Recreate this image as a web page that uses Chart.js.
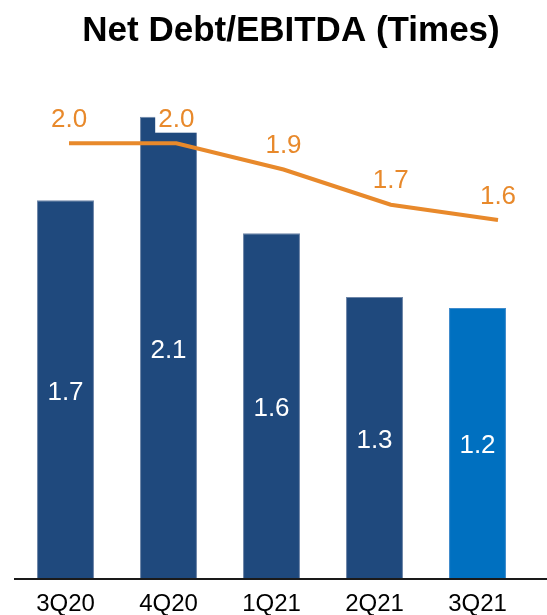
<!DOCTYPE html>
<html><head><meta charset="utf-8">
<script src="https://cdn.jsdelivr.net/npm/chart.js@4/dist/chart.umd.min.js"></script>
<style>html,body{margin:0;padding:0;background:#fff;}#wrap{width:547px;height:615px;position:relative}canvas{display:block}</style>
</head><body><div id="wrap"><canvas id="c" width="547" height="615"></canvas></div>
<script>
const categories = ['3Q20', '4Q20', '1Q21', '2Q21', '3Q21'];
const barValues = [1.72, 2.10, 1.57, 1.28, 1.23];
const lineValues = [1.98, 1.98, 1.86, 1.70, 1.63];
const chartTitle = 'Net Debt/EBITDA (Times)';

const FONT = '"Liberation Sans", Arial, sans-serif';
const NAVY = '#1F497D';
const BLUE = '#0070C0';
const ORANGE = '#E8892B';

const titlePlugin = {
  id: 'titleText',
  afterDraw(chart) {
    const ctx = chart.ctx;
    ctx.save();
    ctx.font = 'bold 35px ' + FONT;
    ctx.fillStyle = '#000';
    ctx.textAlign = 'center';
    ctx.textBaseline = 'alphabetic';
    ctx.fillText(chartTitle, 291, 41);
    ctx.restore();
  }
};

const axisLinePlugin = {
  id: 'axisLine',
  afterDatasetsDraw(chart) {
    const ctx = chart.ctx, a = chart.chartArea;
    ctx.save();
    ctx.strokeStyle = '#1a1a1a';
    ctx.lineWidth = 2;
    ctx.beginPath();
    ctx.moveTo(a.left, a.bottom + 1);
    ctx.lineTo(chart.width, a.bottom + 1);
    ctx.stroke();
    ctx.restore();
  }
};

const labelPlugin = {
  id: 'valueLabels',
  afterDatasetsDraw(chart) {
    const ctx = chart.ctx;
    ctx.save();
    ctx.font = '26px ' + FONT;
    ctx.textAlign = 'center';
    ctx.textBaseline = 'alphabetic';
    const barMeta = chart.getDatasetMeta(1);
    barMeta.data.forEach((el, i) => {
      const mid = (el.y + el.base) / 2;
      ctx.fillStyle = '#fff';
      ctx.fillText(barValues[i].toFixed(1), el.x, mid + 10.5);
    });
    const lineMeta = chart.getDatasetMeta(0);
    lineMeta.data.forEach((el, i) => {
      const txt = lineValues[i].toFixed(1);
      const by = el.y - 16.5;
      const w = ctx.measureText(txt).width;
      ctx.fillStyle = '#fff';
      ctx.fillRect(el.x - w / 2 - 3, by - 28, w + 6, 34);
      ctx.fillStyle = ORANGE;
      ctx.fillText(txt, el.x, by);
    });
    ctx.restore();
  }
};

new Chart(document.getElementById('c'), {
  type: 'bar',
  data: {
    labels: categories,
    datasets: [
      {
        type: 'line',
        data: lineValues.map((v, i) => ({ x: i, y: v })),
        xAxisID: 'xl',
        borderColor: ORANGE,
        borderWidth: 4,
        pointRadius: 0,
        tension: 0,
        fill: false,
        order: 0
      },
      {
        type: 'bar',
        data: barValues,
        xAxisID: 'x',
        grouped: false,
        backgroundColor: categories.map((c, i) => i === categories.length - 1 ? BLUE : NAVY),
        borderColor: categories.map((c, i) => i === categories.length - 1 ? '#3f8bcc' : '#6e86a8'),
        borderWidth: 1,
        barPercentage: 0.553,
        categoryPercentage: 1,
        order: 1
      }
    ]
  },
  options: {
    responsive: false,
    animation: false,
    devicePixelRatio: 1,
    layout: { padding: { left: 14, right: 18, top: 29, bottom: -15 } },
    plugins: { legend: { display: false }, tooltip: { enabled: false }, title: { display: false } },
    scales: {
      x: {
        type: 'category',
        offset: true,
        grid: { display: false, drawTicks: false },
        border: { display: false },
        ticks: { color: '#000', font: { family: FONT, size: 24, lineHeight: 1 }, padding: 14, maxRotation: 0 }
      },
      xl: { type: 'linear', display: false, offset: false, min: -0.513, max: 4.289, grid: { offset: false } },
      y: { display: false, min: 0, max: 2.5 }
    }
  },
  plugins: [titlePlugin, axisLinePlugin, labelPlugin]
});
</script>
</body></html>
